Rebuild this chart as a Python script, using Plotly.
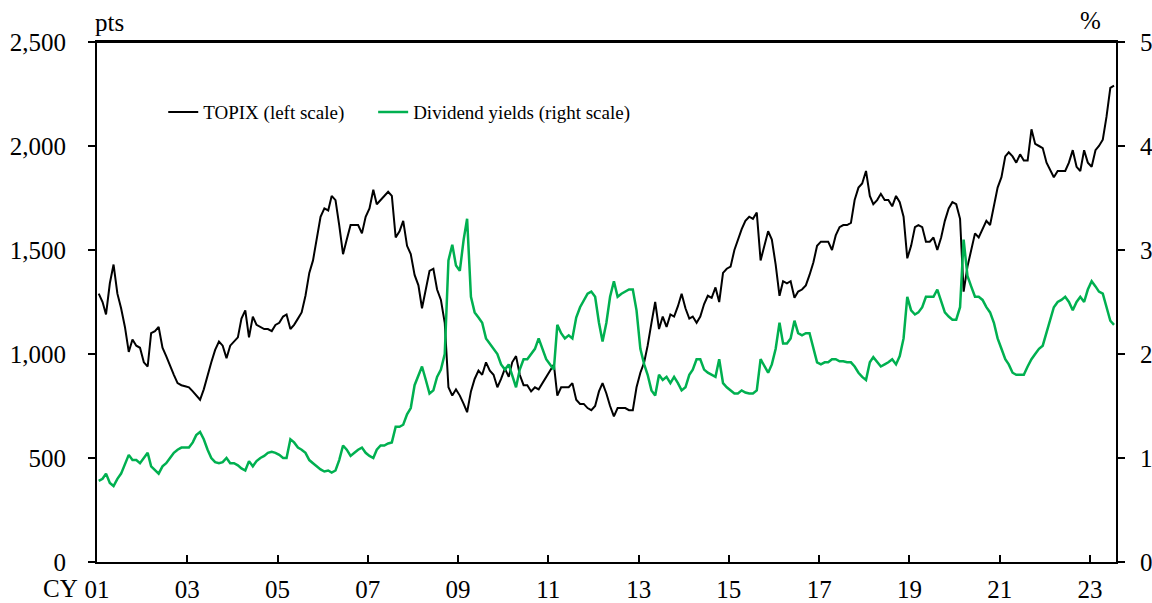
import pandas as pd
import plotly.graph_objects as go

# Monthly readings, Jan 2001 - Jul 2023
topix = [
    1290, 1250, 1190, 1340, 1430, 1290, 1220, 1130, 1010, 1070, 1040, 1030,  # 2001
    960, 940, 1100, 1110, 1130, 1030, 990, 940, 900, 860, 850, 845,           # 2002
    840, 820, 800, 780, 830, 900, 960, 1020, 1060, 1040, 980, 1040,           # 2003
    1060, 1080, 1170, 1210, 1080, 1180, 1140, 1130, 1120, 1120, 1110, 1140,   # 2004
    1150, 1180, 1190, 1120, 1140, 1170, 1200, 1280, 1390, 1450, 1550, 1660,   # 2005
    1700, 1690, 1760, 1740, 1620, 1480, 1550, 1620, 1620, 1620, 1580, 1660,   # 2006
    1700, 1790, 1720, 1740, 1760, 1780, 1760, 1560, 1590, 1640, 1520, 1480,   # 2007
    1380, 1330, 1220, 1320, 1400, 1410, 1310, 1260, 1150, 840, 800, 830,      # 2008
    800, 760, 720, 820, 880, 920, 900, 960, 920, 900, 840, 880,               # 2009
    930, 890, 960, 990, 900, 850, 850, 820, 840, 830, 860, 890,               # 2010
    920, 950, 800, 840, 840, 840, 860, 780, 760, 760, 740, 730,               # 2011
    750, 820, 860, 810, 750, 700, 740, 740, 740, 730, 730, 840,               # 2012
    910, 960, 1040, 1150, 1250, 1120, 1180, 1130, 1190, 1180, 1230, 1290,     # 2013
    1220, 1170, 1180, 1150, 1180, 1240, 1280, 1270, 1320, 1250, 1390, 1410,   # 2014
    1420, 1500, 1550, 1600, 1640, 1660, 1650, 1680, 1450, 1520, 1590, 1550,   # 2015
    1430, 1280, 1350, 1340, 1350, 1270, 1300, 1310, 1330, 1380, 1440, 1520,   # 2016
    1540, 1540, 1540, 1500, 1570, 1610, 1620, 1620, 1630, 1740, 1800, 1820,   # 2017
    1880, 1760, 1720, 1740, 1770, 1740, 1740, 1710, 1760, 1730, 1660, 1460,   # 2018
    1520, 1610, 1620, 1610, 1540, 1540, 1560, 1500, 1560, 1640, 1700, 1730,   # 2019
    1720, 1650, 1300, 1420, 1500, 1580, 1560, 1600, 1640, 1620, 1720, 1800,   # 2020
    1850, 1950, 1970, 1950, 1920, 1960, 1930, 1930, 2080, 2010, 2000, 1990,   # 2021
    1920, 1880, 1850, 1880, 1880, 1880, 1920, 1980, 1900, 1880, 1980, 1920,   # 2022
    1900, 1980, 2000, 2030, 2140, 2280, 2290,                                 # 2023
]

div_yield = [
    0.78, 0.80, 0.85, 0.76, 0.73, 0.80, 0.85, 0.95, 1.03, 0.98, 0.98, 0.95,  # 2001
    1.00, 1.05, 0.92, 0.88, 0.85, 0.92, 0.95, 1.00, 1.05, 1.08, 1.10, 1.10,  # 2002
    1.10, 1.15, 1.22, 1.25, 1.18, 1.08, 1.00, 0.96, 0.95, 0.96, 1.00, 0.95,  # 2003
    0.95, 0.93, 0.90, 0.88, 0.97, 0.92, 0.97, 1.00, 1.02, 1.05, 1.06, 1.05,  # 2004
    1.03, 1.00, 1.00, 1.18, 1.15, 1.10, 1.08, 1.05, 0.98, 0.95, 0.92, 0.89,  # 2005
    0.87, 0.88, 0.86, 0.88, 0.98, 1.12, 1.08, 1.02, 1.05, 1.08, 1.10, 1.05,  # 2006
    1.02, 1.00, 1.08, 1.12, 1.12, 1.14, 1.15, 1.30, 1.30, 1.32, 1.42, 1.48,  # 2007
    1.70, 1.80, 1.88, 1.75, 1.62, 1.65, 1.78, 1.85, 2.00, 2.90, 3.05, 2.85,  # 2008
    2.80, 3.10, 3.30, 2.55, 2.40, 2.35, 2.30, 2.15, 2.10, 2.05, 2.00, 1.90,  # 2009
    1.85, 1.90, 1.80, 1.68, 1.85, 1.95, 1.95, 2.00, 2.05, 2.15, 2.05, 1.95,  # 2010
    1.90, 1.85, 2.28, 2.20, 2.15, 2.18, 2.15, 2.35, 2.45, 2.52, 2.58, 2.60,  # 2011
    2.55, 2.30, 2.12, 2.30, 2.55, 2.70, 2.55, 2.58, 2.60, 2.62, 2.62, 2.42,  # 2012
    2.05, 1.90, 1.80, 1.65, 1.60, 1.80, 1.75, 1.78, 1.72, 1.78, 1.72, 1.65,  # 2013
    1.68, 1.80, 1.85, 1.95, 1.95, 1.85, 1.82, 1.80, 1.78, 1.95, 1.72, 1.68,  # 2014
    1.65, 1.62, 1.62, 1.65, 1.63, 1.62, 1.62, 1.65, 1.95, 1.88, 1.82, 1.90,  # 2015
    2.05, 2.30, 2.10, 2.10, 2.15, 2.32, 2.20, 2.18, 2.20, 2.20, 2.05, 1.92,  # 2016
    1.90, 1.92, 1.92, 1.95, 1.95, 1.93, 1.93, 1.92, 1.92, 1.88, 1.82, 1.78,  # 2017
    1.75, 1.92, 1.97, 1.92, 1.88, 1.90, 1.92, 1.95, 1.90, 1.98, 2.15, 2.55,  # 2018
    2.42, 2.38, 2.40, 2.45, 2.55, 2.55, 2.55, 2.62, 2.50, 2.40, 2.36, 2.33,  # 2019
    2.33, 2.45, 3.10, 2.75, 2.65, 2.55, 2.55, 2.52, 2.45, 2.40, 2.30, 2.15,  # 2020
    2.05, 1.95, 1.90, 1.82, 1.80, 1.80, 1.80, 1.88, 1.95, 2.00, 2.05, 2.08,  # 2021
    2.20, 2.32, 2.45, 2.50, 2.52, 2.55, 2.50, 2.42, 2.50, 2.55, 2.50, 2.62,  # 2022
    2.70, 2.65, 2.60, 2.58, 2.45, 2.32, 2.28,                                # 2023
]

dates = pd.date_range("2001-01-01", periods=len(topix), freq="MS") + pd.Timedelta(days=14)

tick_years = list(range(2001, 2024, 2))
tick_vals = [f"{y}-01-01" for y in tick_years]
tick_text = [f"{y % 100:02d}" for y in tick_years]

FONT = "Liberation Serif, Times New Roman, serif"
LEG_FONT = dict(family=FONT, size=19, color="black")

fig = go.Figure()
fig.add_trace(go.Scatter(x=dates, y=topix, name="TOPIX (left scale)",
                         mode="lines", line=dict(color="black", width=2),
                         legend="legend"))
fig.add_trace(go.Scatter(x=dates, y=div_yield, name="Dividend yields (right scale)",
                         mode="lines", line=dict(color="#00B050", width=2.5),
                         yaxis="y2", legend="legend2"))

fig.update_layout(
    width=1152, height=603,
    margin=dict(l=97, r=36, t=42, b=41),
    paper_bgcolor="white", plot_bgcolor="white",
    font=dict(family=FONT, size=25, color="black"),
    showlegend=True,
    legend=dict(orientation="h", x=0.065, y=0.865, xanchor="left", yanchor="middle",
                font=LEG_FONT, bgcolor="rgba(0,0,0,0)"),
    legend2=dict(orientation="h", x=0.271, y=0.865, xanchor="left", yanchor="middle",
                 font=LEG_FONT, bgcolor="rgba(0,0,0,0)"),
    xaxis=dict(type="date", range=["2001-01-01", "2023-07-31"], automargin=False,
               tickmode="array", tickvals=tick_vals, ticktext=tick_text,
               ticks="inside", ticklen=7, tickwidth=1.5, tickcolor="black",
               showline=True, linewidth=2, linecolor="black", mirror=True,
               showgrid=False, zeroline=False, ticklabelstandoff=4,
               tickfont=dict(family=FONT, size=25, color="black")),
    yaxis=dict(range=[0, 2500], dtick=500, tickformat=",", automargin=False,
               ticks="outside", ticklen=7, tickwidth=1.5, tickcolor="black",
               showline=True, linewidth=2, linecolor="black",
               showgrid=False, zeroline=False, ticklabelstandoff=17,
               tickfont=dict(family=FONT, size=25, color="black")),
    yaxis2=dict(range=[0, 5], dtick=1, overlaying="y", side="right", automargin=False,
                ticks="outside", ticklen=7, tickwidth=1.5, tickcolor="black",
                showline=True, linewidth=2, linecolor="black",
                showgrid=False, zeroline=False, ticklabelstandoff=10,
                tickfont=dict(family=FONT, size=25, color="black")),
    shapes=[
        dict(type="line", xref="paper", yref="paper", x0=0, x1=1, y0=1, y1=1,
             line=dict(color="black", width=2), layer="above"),
    ],
    annotations=[
        dict(text="pts", xref="paper", yref="paper", x=-0.004, y=1.0,
             xanchor="left", yanchor="bottom", yshift=4, showarrow=False,
             font=dict(family=FONT, size=25, color="black")),
        dict(text="%", xref="paper", yref="paper", x=0.987, y=1.0,
             xanchor="right", yanchor="bottom", yshift=6, showarrow=False,
             font=dict(family=FONT, size=25, color="black")),
        dict(text="CY", xref="paper", yref="paper", x=-0.017, y=0,
             xanchor="right", yanchor="top", yshift=-11, showarrow=False,
             font=dict(family=FONT, size=25, color="black")),
    ],
)

fig.write_html("out.html", config={"displayModeBar": False},
               post_script="document.body.style.margin='0';")
